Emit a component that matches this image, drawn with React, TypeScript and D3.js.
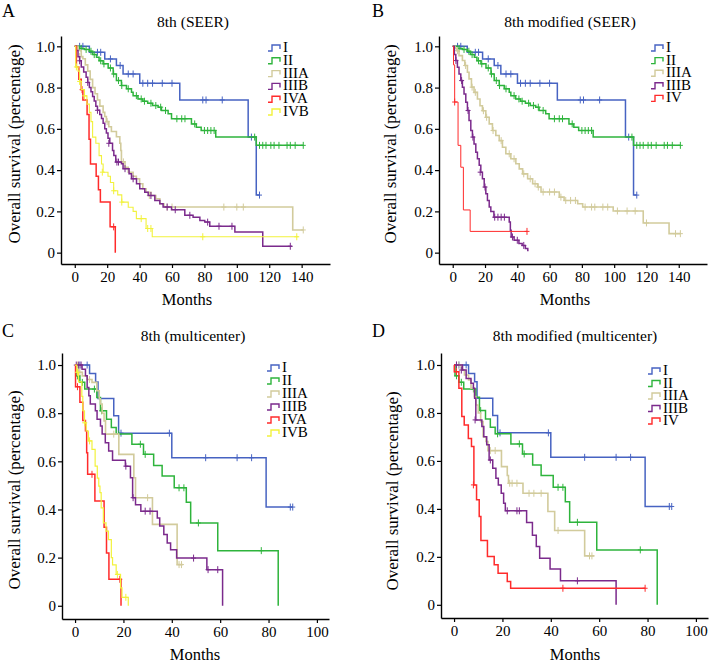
import React, { useEffect, useRef } from "react";
import * as d3 from "d3";

type Pt = [number, number];

// ---------- categories / ticks ----------
const STAGES_6 = ["I", "II", "IIIA", "IIIB", "IVA", "IVB"];
const STAGES_5 = ["I", "II", "IIIA", "IIIB", "IV"];
const X_TICKS_SEER = [0, 20, 40, 60, 80, 100, 120, 140];
const X_TICKS_MULTI = [0, 20, 40, 60, 80, 100];
const Y_TICKS = [0, 0.2, 0.4, 0.6, 0.8, 1.0];
const TITLES = ["8th (SEER)", "8th modified (SEER)", "8th (multicenter)", "8th modified (multicenter)"];
const LETTERS = ["A", "B", "C", "D"];

// ---------- SEER cohort (panels A, B) : [month, survival] ----------
const seerI: Pt[] = [[0,1],[9,0.971],[18.5,0.939],[25.7,0.907],[29.8,0.866],[40.1,0.821],[64.8,0.74],[107,0.56],[112,0.279],[114,0.279]];
const seerIC: Pt[] = [[3,1],[5,1],[14,0.971],[16,0.971],[22,0.939],[28,0.907],[33,0.866],[36,0.866],[42,0.821],[45,0.821],[48,0.821],[54,0.821],[60,0.821],[79,0.74],[81,0.74],[91,0.74],[109,0.56],[114,0.279]];
const seerII: Pt[] = [[0,1],[3,0.99],[6,0.985],[9,0.976],[11,0.96],[13.4,0.947],[15,0.93],[17.5,0.915],[20.6,0.895],[23.7,0.866],[25.7,0.834],[28.8,0.81],[31.9,0.794],[35,0.777],[36,0.761],[39,0.745],[42,0.734],[45,0.724],[48,0.713],[51.4,0.705],[53.5,0.689],[57.6,0.673],[59.7,0.649],[72,0.624],[75,0.608],[78,0.592],[87,0.56],[112,0.52],[141,0.52]];
const seerIIC: Pt[] = [[4,0.99],[7,0.985],[10,0.976],[12,0.96],[16,0.93],[18,0.915],[22,0.895],[24,0.866],[27,0.834],[29,0.81],[33,0.794],[38,0.761],[41,0.745],[43,0.734],[47,0.724],[50,0.713],[53,0.705],[56,0.689],[63,0.649],[66,0.649],[68,0.649],[74,0.624],[80,0.592],[82,0.592],[84,0.592],[86,0.592],[111,0.56],[114,0.52],[116,0.52],[118,0.52],[121,0.52],[123,0.52],[126,0.52],[131,0.52],[133,0.52],[136,0.52],[141,0.52]];

const aIIIA: Pt[] = [[0,1],[2,0.98],[4,0.95],[5,0.94],[6.5,0.91],[8,0.88],[9.5,0.84],[11,0.8],[12.5,0.77],[14,0.74],[15.5,0.71],[17.5,0.68],[18.5,0.66],[19.5,0.635],[21,0.61],[22.6,0.587],[25.7,0.562],[27.8,0.53],[28.4,0.495],[28.8,0.44],[31,0.414],[33,0.39],[36,0.37],[38,0.358],[40,0.334],[42,0.31],[44,0.293],[47,0.277],[50,0.261],[52.5,0.237],[55,0.221],[134.5,0.11],[141,0.11]];
const aIIIAC: Pt[] = [[3,0.95],[20,0.635],[30,0.44],[46,0.277],[57,0.221],[60,0.221],[92,0.221],[100,0.221],[104,0.221],[141,0.11]];
const aIIIB: Pt[] = [[0,1],[1,0.98],[2,0.95],[3,0.93],[4,0.9],[5.5,0.875],[7,0.85],[8,0.825],[9,0.8],[10,0.78],[11,0.757],[12,0.735],[13,0.71],[14,0.69],[15.4,0.67],[16.5,0.65],[17.5,0.627],[18.5,0.6],[19.5,0.58],[20.5,0.555],[21.6,0.53],[23.3,0.495],[24.1,0.471],[25.3,0.439],[28.8,0.431],[29.8,0.407],[33.5,0.382],[35,0.358],[38.1,0.334],[40.1,0.31],[43.2,0.293],[45.3,0.277],[49.4,0.253],[52.5,0.237],[54.5,0.221],[59.7,0.208],[67.9,0.181],[73,0.172],[77.2,0.156],[80.2,0.148],[83.3,0.128],[98.8,0.1],[116,0.031],[134,0.031]];
const aIIIBC: Pt[] = [[3,0.93],[8,0.825],[14,0.69],[21,0.53],[26,0.439],[27,0.439],[31,0.407],[36,0.358],[47,0.277],[57,0.221],[62,0.208],[71,0.181],[82,0.148],[89,0.128],[97,0.128],[133,0.031]];
const aIVA: Pt[] = [[0,1],[1,0.9],[2.5,0.84],[4,0.79],[5,0.74],[7.6,0.67],[8.8,0.55],[9.7,0.43],[13.2,0.37],[14.6,0.305],[15.8,0.245],[21.8,0.125],[25,0]];
const aIVAC: Pt[] = [[4.5,0.79],[24,0.125]];
const aIVB: Pt[] = [[0,1],[0.6,0.9],[2,0.88],[3,0.83],[4,0.79],[6,0.76],[7.5,0.72],[9,0.68],[10,0.635],[11,0.56],[13,0.53],[15,0.47],[16.5,0.43],[17.5,0.39],[20.5,0.37],[22,0.34],[24,0.3],[26.5,0.28],[29,0.245],[33,0.22],[36,0.2],[38,0.165],[44,0.117],[47.8,0.077],[138,0.077]];
const aIVBC: Pt[] = [[1,0.9],[3,0.83],[6,0.76],[17,0.39],[24,0.3],[29,0.245],[41,0.165],[45,0.117],[47,0.117],[79,0.077],[137,0.077]];

const bIIIA: Pt[] = [[0,1],[1.5,0.99],[2.5,0.979],[3.9,0.955],[6,0.931],[7.5,0.907],[9.1,0.874],[10.1,0.842],[11.6,0.802],[13.2,0.777],[15.3,0.745],[16.9,0.712],[18.4,0.688],[20.5,0.656],[22.6,0.624],[24.6,0.592],[26.7,0.568],[28.8,0.543],[30.8,0.511],[32.9,0.479],[36,0.455],[39.1,0.431],[41.2,0.406],[43.3,0.382],[46.4,0.358],[49.5,0.334],[52.6,0.318],[54.7,0.294],[66,0.269],[69,0.253],[77.4,0.237],[80.5,0.221],[99.4,0.202],[118,0.144],[134,0.092],[141,0.092]];
const bIIIAC: Pt[] = [[3,0.979],[8,0.907],[12,0.802],[14,0.777],[19,0.688],[21,0.656],[25,0.592],[30,0.543],[35,0.479],[38,0.455],[44,0.382],[48,0.358],[51,0.334],[53,0.318],[56,0.294],[60,0.294],[63,0.294],[67,0.269],[70,0.253],[73,0.253],[76,0.253],[82,0.221],[86,0.221],[88,0.221],[93,0.221],[96,0.221],[102,0.202],[108,0.202],[113,0.202],[120,0.144],[138,0.092],[141,0.092]];
const bIIIB: Pt[] = [[0,1],[1,0.96],[1.9,0.931],[2.9,0.899],[3.9,0.866],[5,0.834],[6,0.802],[7,0.769],[8.1,0.729],[9.1,0.689],[10.1,0.64],[11.2,0.592],[12.2,0.56],[13.2,0.527],[14.3,0.487],[15.3,0.455],[16.4,0.423],[17.4,0.39],[18.4,0.358],[19.5,0.318],[20.5,0.286],[21.5,0.253],[22.6,0.221],[23.6,0.2],[25.5,0.172],[35,0.148],[35.7,0.108],[36.2,0.076],[38,0.06],[41,0.044],[43,0.035],[45,0.02],[46.5,0.01],[47,0.01]];
const bIIIBC: Pt[] = [[2,0.931],[5.5,0.834],[9.5,0.689],[12.5,0.56],[17,0.39],[20,0.318],[26,0.172],[28,0.172],[30,0.172],[32,0.172],[37,0.076],[40,0.06],[44,0.035]];
const bIV: Pt[] = [[0,1],[0.5,0.91],[1.2,0.73],[3.3,0.52],[5,0.414],[6.6,0.207],[10.8,0.103],[46,0.103]];
const bIVC: Pt[] = [[1.2,0.73],[46,0.103]];

// ---------- multicenter cohort (panels C, D) ----------
const mI: Pt[] = [[0,1],[6,0.965],[8.5,0.93],[9.5,0.861],[16,0.789],[18,0.717],[40,0.615],[79,0.41],[90,0.41]];
const mIC: Pt[] = [[2,1],[5,1],[19,0.717],[39,0.717],[54,0.615],[67,0.615],[73,0.615],[89,0.41],[90,0.41]];
const mII: Pt[] = [[0,1],[0.4,0.955],[2,0.928],[4,0.9],[9,0.865],[10.5,0.81],[13,0.775],[15,0.74],[17,0.713],[23.5,0.671],[28.3,0.629],[32.5,0.583],[36,0.539],[41,0.49],[46,0.43],[47.8,0.344],[59,0.229],[84,0]];
const mIIC: Pt[] = [[1,0.955],[3,0.928],[8,0.9],[11,0.81],[18,0.713],[27,0.671],[29,0.629],[43,0.49],[45,0.49],[51,0.344],[77,0.229]];

const cIIIA: Pt[] = [[0,1],[1.5,0.97],[3,0.955],[5,0.94],[7,0.928],[9,0.893],[10,0.86],[10.5,0.838],[11.2,0.8],[12,0.768],[12.6,0.713],[18.1,0.629],[24.3,0.532],[25,0.449],[32,0.338],[42.2,0.171],[44.5,0.171]];
const cIIIAC: Pt[] = [[1,1],[2,0.97],[6,0.94],[16,0.713],[30,0.449],[43,0.171],[44,0.171]];
const cIIIB: Pt[] = [[0,1],[2.9,0.983],[4.3,0.955],[5,0.907],[5.7,0.872],[6.3,0.838],[8.4,0.81],[9.1,0.775],[10.5,0.747],[11.2,0.713],[12.5,0.677],[13.9,0.643],[15.5,0.604],[20.8,0.58],[22.9,0.532],[23.8,0.449],[25,0.42],[27.2,0.393],[34,0.365],[35,0.331],[36.7,0.296],[38.1,0.261],[39.5,0.233],[42,0.198],[54.5,0.15],[61,0]];
const cIIIBC: Pt[] = [[0.5,1],[1.5,1],[2.5,1],[21,0.58],[24,0.449],[29,0.393],[31,0.393],[49,0.198],[55,0.15],[59,0.15]];
const cIVA: Pt[] = [[0,1],[0.2,0.91],[2,0.845],[3.2,0.77],[4.3,0.727],[4.8,0.636],[5.2,0.546],[8.2,0.435],[12,0.326],[13,0.219],[14,0.11],[19,0]];
const cIVAC: Pt[] = [[1,0.91],[7,0.546],[18.5,0.11]];
const cIVB: Pt[] = [[0,1],[0.7,0.97],[1.4,0.93],[2.8,0.87],[3.2,0.81],[3.9,0.76],[4.6,0.726],[5.5,0.685],[7,0.65],[8.3,0.58],[9.2,0.53],[9.8,0.497],[10.3,0.47],[10.8,0.407],[11.7,0.344],[12.8,0.31],[13.8,0.275],[15,0.2],[15.5,0.17],[17,0.13],[18.8,0.074],[19.4,0.035],[22,0]];
const cIVBC: Pt[] = [[1,0.97],[4,0.76],[6,0.685],[17.5,0.13],[21,0.035]];

const dIIIA: Pt[] = [[0,1],[3,0.979],[4.3,0.958],[6,0.938],[7,0.903],[8.4,0.868],[9,0.833],[10,0.8],[11,0.764],[12,0.701],[13.2,0.681],[14,0.643],[19.6,0.576],[22,0.539],[22.5,0.507],[28.5,0.465],[38.8,0.389],[41.6,0.31],[54,0.204],[58,0.204]];
const dIIIAC: Pt[] = [[1,1],[2,1],[15,0.643],[17,0.643],[23,0.507],[24,0.507],[26,0.507],[31,0.465],[33,0.465],[36,0.465],[43,0.31],[56,0.204],[57,0.204]];
const dIIIB: Pt[] = [[0,1],[3.5,0.979],[5,0.944],[7,0.924],[8,0.903],[8.5,0.861],[9,0.771],[11.5,0.743],[12.3,0.701],[13.5,0.667],[14.5,0.604],[16,0.569],[17.3,0.528],[18.3,0.5],[19.5,0.465],[20.5,0.424],[21.2,0.392],[30,0.343],[32.4,0.29],[34,0.243],[35.4,0.194],[39.7,0.149],[44,0.1],[67,0]];
const dIIIBC: Pt[] = [[1,1],[3,0.979],[8.7,0.771],[15,0.604],[22,0.392],[26,0.392],[27,0.392],[51,0.1]];
const dIV: Pt[] = [[0,1],[0.1,0.972],[2,0.903],[3.2,0.785],[4.2,0.75],[5.9,0.694],[7.2,0.66],[8.2,0.5],[9.3,0.438],[10.4,0.368],[11.1,0.268],[13.8,0.201],[16.6,0.167],[18.2,0.132],[22,0.097],[23.4,0.069],[79,0.069]];
const dIVC: Pt[] = [[1,0.972],[8,0.5],[45,0.069],[79,0.069]];

// ---------- styles ----------
const C_I = "#4763c2";
const C_II = "#2eb43c";
const C_IIIA = "#d2cb9c";
const C_IIIB = "#7b2a8c";
const C_IV = "#ff2b2b";
const C_IVB = "#f2f23c";
const FONT = "Liberation Serif";

type Series = { name: string; steps: Pt[]; cens: Pt[]; color: string; width: number };
type PanelCfg = {
  letter: string; title: string; series: Series[]; xDomain: [number, number]; xTicks: number[];
  left: number; right: number; top: number; bottom: number;
  titleX: number; titleY: number; letterX: number; letterY: number;
  legX: number; legY: number; legStep: number;
  yLabX: number; yLabY: number; xLabX: number; xLabY: number;
};

const mk = (names: string[], steps: Pt[][], cens: Pt[][], colors: string[], widths: number[]): Series[] =>
  names.map((n, i) => ({ name: n, steps: steps[i], cens: cens[i], color: colors[i], width: widths[i] }));

const PANELS: PanelCfg[] = [
  {
    letter: LETTERS[0], title: TITLES[0],
    series: mk(STAGES_6, [seerI, seerII, aIIIA, aIIIB, aIVA, aIVB], [seerIC, seerIIC, aIIIAC, aIIIBC, aIVAC, aIVBC],
      [C_I, C_II, C_IIIA, C_IIIB, C_IV, C_IVB], [1.5, 1.5, 1.6, 1.5, 1.5, 1.1]),
    xDomain: [-8.5, 157.5], xTicks: X_TICKS_SEER,
    left: 61, right: 330, top: 36, bottom: 264,
    titleX: 193, titleY: 27, letterX: 2, letterY: 17,
    legX: 268, legY: 52, legStep: 12.8, yLabX: 20, yLabY: 144, xLabX: 187, xLabY: 305,
  },
  {
    letter: LETTERS[1], title: TITLES[1],
    series: mk(STAGES_5, [seerI, seerII, bIIIA, bIIIB, bIV], [seerIC, seerIIC, bIIIAC, bIIIBC, bIVC],
      [C_I, C_II, C_IIIA, C_IIIB, C_IV], [1.5, 1.5, 1.6, 1.5, 1.0]),
    xDomain: [-8.5, 157.5], xTicks: X_TICKS_SEER,
    left: 439, right: 707, top: 36, bottom: 264,
    titleX: 570, titleY: 27, letterX: 372, letterY: 17,
    legX: 651, legY: 52, legStep: 12.6, yLabX: 396, yLabY: 144, xLabX: 565, xLabY: 305,
  },
  {
    letter: LETTERS[2], title: TITLES[2],
    series: mk(STAGES_6, [mI, mII, cIIIA, cIIIB, cIVA, cIVB], [mIC, mIIC, cIIIAC, cIIIBC, cIVAC, cIVBC],
      [C_I, C_II, C_IIIA, C_IIIB, C_IV, C_IVB], [1.5, 1.5, 1.6, 1.5, 1.5, 1.2]),
    xDomain: [-5.4, 105], xTicks: X_TICKS_MULTI,
    left: 62, right: 329, top: 353, bottom: 619,
    titleX: 193, titleY: 341, letterX: 2, letterY: 337,
    legX: 267, legY: 372, legStep: 13, yLabX: 20, yLabY: 490, xLabX: 195, xLabY: 660,
  },
  {
    letter: LETTERS[3], title: TITLES[3],
    series: mk(STAGES_5, [mI, mII, dIIIA, dIIIB, dIV], [mIC, mIIC, dIIIAC, dIIIBC, dIVC],
      [C_I, C_II, C_IIIA, C_IIIB, C_IV], [1.5, 1.5, 1.6, 1.5, 1.5]),
    xDomain: [-5.4, 105], xTicks: X_TICKS_MULTI,
    left: 441, right: 708, top: 353, bottom: 618,
    titleX: 575, titleY: 341, letterX: 372, letterY: 337,
    legX: 648, legY: 375, legStep: 12.5, yLabX: 398, yLabY: 491, xLabX: 575, xLabY: 660,
  },
];

function Panel({ cfg }: { cfg: PanelCfg }) {
  const gx = useRef<SVGGElement>(null);
  const gy = useRef<SVGGElement>(null);
  const x = d3.scaleLinear().domain(cfg.xDomain).range([cfg.left, cfg.right]);
  const y = d3.scaleLinear().domain([-0.055, 1.05]).range([cfg.bottom, cfg.top]);

  useEffect(() => {
    const style = (g: any) => {
      g.attr("font-family", null).attr("font-size", null);
      g.style("font-family", FONT).style("font-size", "15px");
      g.select("path.domain").attr("stroke", "#000").attr("stroke-width", 1.4);
      g.selectAll("line").attr("stroke", "#000").attr("stroke-width", 1.2);
      g.selectAll("text").attr("fill", "#000").style("font-family", FONT);
    };
    const xa = d3.axisBottom(x).tickValues(cfg.xTicks).tickSize(4).tickSizeOuter(0).tickPadding(3).tickFormat(d3.format("d") as any);
    const ya = d3.axisLeft(y).tickValues(Y_TICKS).tickSize(4).tickSizeOuter(0).tickPadding(2)
      .tickFormat((d: any) => (d === 0 ? "0" : d3.format(".1f")(d)));
    const gX = d3.select(gx.current!);
    gX.call(xa as any);
    style(gX);
    const gY = d3.select(gy.current!);
    gY.call(ya as any);
    style(gY);
  }, []);

  const line = d3.line<Pt>().x((d) => x(d[0])).y((d) => y(d[1])).curve(d3.curveStepAfter);
  const ts = (size: number) => ({ fontFamily: FONT, fontSize: size + "px" });

  return (
    <g>
      <text x={cfg.letterX} y={cfg.letterY} style={ts(18)}>{cfg.letter}</text>
      <text x={cfg.titleX} y={cfg.titleY} style={ts(15.5)} textAnchor="middle">{cfg.title}</text>
      <g ref={gx} transform={`translate(0,${cfg.bottom})`} />
      <g ref={gy} transform={`translate(${cfg.left},0)`} />
      <text transform={`translate(${cfg.yLabX},${cfg.yLabY}) rotate(-90)`} style={ts(17)} textAnchor="middle">
        Overall survival (percentage)
      </text>
      <text x={cfg.xLabX} y={cfg.xLabY} style={ts(16.5)} textAnchor="middle">Months</text>
      {cfg.series.map((s) => (
        <g key={s.name}>
          <path d={line(s.steps) || ""} fill="none" stroke={s.color} strokeWidth={s.width} />
          {s.cens.map((c, i) => (
            <g key={i} stroke={s.color} strokeWidth={1}>
              <line x1={x(c[0])} x2={x(c[0])} y1={y(c[1]) - 3.5} y2={y(c[1]) + 3.5} />
              <line x1={x(c[0]) - 2.5} x2={x(c[0]) + 2.5} y1={y(c[1])} y2={y(c[1])} />
            </g>
          ))}
        </g>
      ))}
      {cfg.series.map((s, i) => {
        const by = cfg.legY + i * cfg.legStep;
        const lx = cfg.legX;
        return (
          <g key={"leg" + s.name}>
            <path d={`M${lx},${by - 1} H${lx + 4} V${by - 7} H${lx + 12} V${by - 3}`} fill="none" stroke={s.color} strokeWidth={1.4} />
            <text x={lx + 15} y={by} style={ts(15)}>{s.name}</text>
          </g>
        );
      })}
    </g>
  );
}

export default function App() {
  return (
    <svg width={709} height={665} style={{ display: "block", position: "absolute", left: 0, top: 0, background: "#fff" }}>
      <rect width={709} height={665} fill="#fff" />
      {PANELS.map((p) => (
        <Panel key={p.letter} cfg={p} />
      ))}
    </svg>
  );
}
